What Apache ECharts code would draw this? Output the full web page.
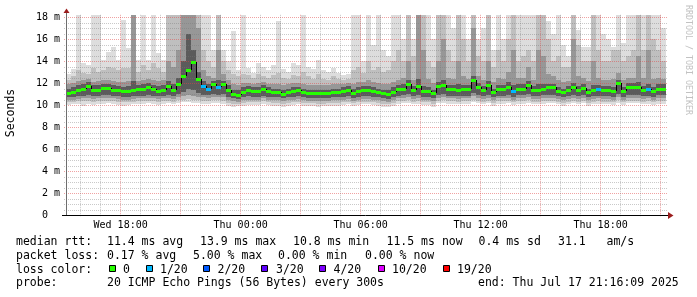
<!DOCTYPE html>
<html><head><meta charset="utf-8">
<script src="https://cdn.jsdelivr.net/npm/echarts@6/dist/echarts.min.js"></script>
<style>html,body{margin:0;padding:0;background:#fff;}#c{width:697px;height:297px;}</style>
</head><body><div id="c"></div>
<script>
// ---- time base: hours since Wed 00:00; one column = 15 min ----
const startHour = 15 + 16/60 + 9/3600;   // Wed 15:16:09
const stepHours = 0.25;
const spanHours = 30;

// ---- median rtt (ms) per column ----
const median = [
11.06,11.2,11.35,11.5,11.7,11.35,11.4,11.55,11.55,11.4,
11.33,11.24,11.24,11.36,11.42,11.48,11.6,11.42,11.3,11.4,
11.75,11.35,11.9,12.6,13.2,13.9,12.4,11.7,11.45,11.9,
11.6,11.9,11.4,11.0,10.95,11.2,11.35,11.3,11.25,11.48,
11.3,11.18,11.15,11.03,11.2,11.3,11.33,11.15,11.1,11.1,
11.05,11.05,11.08,11.18,11.18,11.24,11.36,11.1,11.27,11.33,
11.36,11.27,11.18,11.06,11.0,11.2,11.45,11.5,11.88,11.36,
11.7,11.27,11.27,11.06,11.73,11.85,11.45,11.45,11.36,11.45,
11.45,12.27,11.67,11.36,11.8,11.18,11.42,11.42,11.67,11.27,
11.5,11.5,11.8,11.36,11.36,11.5,11.6,11.6,11.3,11.2,
11.36,11.6,11.36,11.58,11.2,11.36,11.48,11.36,11.36,11.3,
11.97,11.3,11.64,11.62,11.6,11.36,11.48,11.24,11.5,11.5];

// ---- lost pings (of 20) per column ----
const loss = [
0,0,0,0,0,0,0,0,0,0, 0,0,0,0,0,0,0,0,0,0,
0,0,0,0,0,0,0,1,1,0, 1,0,0,0,0,0,0,0,0,0,
0,0,0,0,0,0,0,0,0,0, 0,0,0,0,0,0,0,0,0,0,
0,0,0,0,0,0,0,0,0,0, 0,0,0,0,0,0,0,0,0,0,
0,0,0,0,0,0,0,0,0,1, 0,0,0,0,0,0,0,0,0,0,
0,0,0,0,0,0,1,0,0,0, 0,0,0,0,0,0,1,0,0,0];

// ---- smoke: outer (A) to inner (D) ping ranges (ms) ----
const hiA = [
12.8,13.3,19,13.8,13.6,19,19,14.1,14.85,15.3,
14.1,17.7,15.2,19,14.1,19,14.1,19,14.7,14.1,
19,19,19,19,19,19,19,19,19,15,
19,15,14,16.7,13.2,19,13.4,12.9,13.8,13.5,
13.2,13.6,17.6,13.3,13.0,13.8,13.6,19,13.5,13.3,
14.1,13.2,13.0,13.4,12.9,12.7,12.8,19,19,14,
19,15.5,19,15,14.5,19,19,16,19,16,
19,19,19,16,19,19,19,17,19,19,
16,19,16,17,19,15,19,16,19,19,
19,19,19,19,19,19,17.6,16.5,19,15.5,
14.5,19,16.8,15.3,15.3,19,19,16.5,16,15.3,
19,15.6,19,19,19,19,19,19,19,17];
const hiB = [
12.3,12.6,13.2,12.9,12.8,13.4,13.0,13.2,13.5,13.4,
13.2,13.4,13.4,19,13.0,13.6,13.2,13.8,13.4,13.0,
19,19,19,19,19,19,19,15,14,13.5,
19,14,13.2,12.8,12.6,12.8,12.7,12.5,12.8,12.6,
12.5,12.7,12.9,12.5,12.4,12.7,12.6,13.0,12.6,12.4,
12.8,12.4,12.3,12.6,12.4,12.3,12.4,13.2,13.5,12.9,
14,13.2,13.5,13,13.2,14,15,14,19,14.5,
19,19,14,13.5,19,19,15,14,19,16,
14,19,14.5,14,19,13.5,15,14,16,19,
14,14.5,15,14,19,19,16,14,14.5,13.5,
13.5,19,15.5,14,14,19,15,14,14,15,
15,14,14.5,15,19,15,19,16,15,14];
const hiC = [
11.9,12.0,12.2,12.3,12.4,12.1,12.2,12.3,12.3,12.2,
12.1,12.1,12.2,19,12.2,12.3,12.4,12.3,12.2,12.3,
14,13.5,15,19,19,19,17,13.2,12.6,12.5,
15,12.8,12.3,11.9,11.8,12.0,12.0,11.9,12.0,12.1,
11.9,11.9,11.9,11.8,11.9,12.0,12.0,11.9,11.8,11.8,
11.8,11.8,11.8,11.9,11.9,11.9,12.0,11.9,12.1,12.1,
12.3,12.1,12.0,11.9,11.9,12.1,12.3,12.5,14,12.3,
19,15,12.4,12.0,14,16,12.5,12.4,14,12.6,
12.4,17,12.6,12.3,14,12.1,12.5,12.4,13,15,
12.5,12.5,13.5,12.3,15,14.5,12.8,12.6,12.3,12.1,
12.2,16,12.6,12.5,12.2,14,12.5,12.3,12.3,12.4,
12.9,12.3,12.5,12.5,14.5,12.5,15,12.4,12.5,12.4];
const hiD = [
11.5,11.6,11.8,11.9,12.1,11.8,11.8,11.9,11.9,11.8,
11.7,11.6,11.7,12.2,11.8,11.9,12.0,11.8,11.7,11.8,
12.2,11.9,12.5,14,16.5,15,13,12.2,11.9,12.2,
12.3,12.2,11.8,11.4,11.4,11.6,11.7,11.6,11.6,11.8,
11.6,11.5,11.5,11.4,11.5,11.6,11.6,11.5,11.4,11.4,
11.4,11.4,11.4,11.5,11.5,11.6,11.7,11.5,11.6,11.7,
11.7,11.6,11.5,11.4,11.4,11.6,11.8,11.9,12.3,11.7,
12.4,11.7,11.6,11.4,12.1,12.3,11.8,11.8,11.9,11.8,
11.8,12.6,12.0,11.7,12.2,11.5,11.8,11.8,12.1,11.8,
11.9,11.9,12.2,11.7,11.9,11.9,11.9,11.9,11.6,11.5,
11.7,12.0,11.7,11.9,11.5,11.8,11.8,11.7,11.7,11.6,
12.3,11.6,12.0,12.0,12.1,11.7,11.9,11.6,11.9,11.9];
const loD = [
10.7,10.75,10.8,10.85,10.9,10.8,10.85,10.9,10.9,10.85,
10.8,10.75,10.75,10.8,10.85,10.85,10.9,10.85,10.8,10.85,
10.9,10.8,11.0,11.2,11.5,11.4,11.1,10.95,10.9,11.0,
10.95,11.0,10.7,10.6,10.55,10.7,10.8,10.75,10.75,10.85,
10.75,10.7,10.7,10.6,10.7,10.75,10.8,10.7,10.65,10.65,
10.6,10.6,10.65,10.7,10.7,10.75,10.8,10.65,10.75,10.8,
10.8,10.75,10.7,10.6,10.55,10.7,10.85,10.9,11.0,10.8,
10.9,10.75,10.75,10.6,10.95,11.0,10.85,10.85,10.8,10.85,
10.85,11.1,10.95,10.8,10.95,10.7,10.85,10.85,10.95,10.75,
10.9,10.9,11.0,10.8,10.8,10.9,10.95,10.95,10.8,10.7,
10.8,10.95,10.8,10.95,10.7,10.8,10.85,10.8,10.8,10.75,
11.0,10.75,10.95,10.95,10.95,10.8,10.85,10.75,10.9,10.9];
const loC = [
10.45,10.5,10.55,10.6,10.6,10.55,10.6,10.6,10.65,10.6,
10.55,10.5,10.5,10.55,10.6,10.6,10.65,10.6,10.55,10.6,
10.65,10.55,10.7,10.8,10.9,10.85,10.75,10.7,10.65,10.7,
10.7,10.7,10.45,10.35,10.3,10.45,10.5,10.5,10.5,10.6,
10.5,10.45,10.45,10.35,10.45,10.5,10.55,10.45,10.4,10.4,
10.35,10.35,10.4,10.45,10.45,10.5,10.55,10.4,10.5,10.55,
10.55,10.5,10.45,10.35,10.3,10.45,10.6,10.65,10.7,10.55,
10.6,10.5,10.5,10.35,10.65,10.7,10.6,10.6,10.55,10.6,
10.6,10.8,10.65,10.55,10.65,10.45,10.6,10.6,10.65,10.5,
10.6,10.6,10.7,10.55,10.55,10.6,10.65,10.65,10.55,10.45,
10.55,10.65,10.55,10.65,10.45,10.55,10.6,10.55,10.55,10.5,
10.7,10.5,10.65,10.65,10.65,10.55,10.6,10.5,10.6,10.6];
const loB = [
10.25,10.3,10.35,10.35,10.4,10.3,10.35,10.4,10.4,10.35,
10.3,10.25,10.3,10.3,10.35,10.35,10.4,10.35,10.3,10.35,
10.4,10.3,10.45,10.5,10.55,10.5,10.45,10.4,10.4,10.45,
10.45,10.4,10.2,10.1,10.1,10.2,10.25,10.25,10.25,10.35,
10.25,10.2,10.2,10.1,10.2,10.25,10.3,10.2,10.15,10.15,
10.1,10.1,10.15,10.2,10.2,10.25,10.3,10.15,10.25,10.3,
10.3,10.25,10.2,10.1,10.05,10.2,10.35,10.4,10.45,10.3,
10.35,10.25,10.25,10.1,10.4,10.45,10.35,10.35,10.3,10.35,
10.35,10.5,10.4,10.3,10.4,10.2,10.35,10.35,10.4,10.25,
10.35,10.35,10.45,10.3,10.3,10.35,10.4,10.4,10.3,10.2,
10.3,10.4,10.3,10.4,10.2,10.3,10.35,10.3,10.3,10.25,
10.45,10.25,10.4,10.4,10.4,10.3,10.35,10.25,10.35,10.35];
const loA = [
10.0,10.05,10.1,9.95,10.1,10.0,10.05,10.1,10.15,10.05,
10.0,9.95,10.0,10.05,10.1,10.05,10.15,10.1,10.0,10.1,
10.15,10.05,10.2,10.25,10.3,10.2,10.15,10.1,10.1,10.15,
10.2,10.1,9.95,9.85,9.9,9.95,10.0,10.0,10.0,10.1,
10.0,9.95,9.95,9.85,9.95,10.0,10.05,9.95,9.9,9.9,
9.85,9.9,9.9,9.95,9.95,10.0,10.05,9.9,10.0,10.05,
10.05,10.0,9.95,9.85,9.8,9.95,10.1,10.15,10.2,10.05,
10.1,10.0,10.0,9.85,10.15,10.2,10.1,10.1,10.05,10.1,
10.1,10.25,10.15,10.05,10.15,9.95,10.1,10.1,10.15,10.0,
10.1,10.1,10.2,10.05,10.05,10.1,10.15,10.15,10.05,9.95,
10.05,10.15,10.05,10.15,9.95,10.05,10.1,10.05,10.05,10.0,
10.2,10.0,10.15,10.15,10.15,10.05,10.1,10.0,10.1,10.1];

// ---- axes / ticks ----
const yMax = 18.2;
const xTickHours = [18, 24, 30, 36, 42];
const xTickLabels = ['Wed 18:00', 'Thu 00:00', 'Thu 06:00', 'Thu 12:00', 'Thu 18:00'];

// ---- legend texts ----
const legendRtt = ['median rtt:', '11.4 ms avg', '13.9 ms max', '10.8 ms min', '11.5 ms now', '0.4 ms sd', '31.1', 'am/s'];
const legendLoss = ['packet loss:', '0.17 % avg', '5.00 % max', '0.00 % min', '0.00 % now'];
const lossLabels = ['0', '1/20', '2/20', '3/20', '4/20', '10/20', '19/20'];
const lossThresholds = [0, 1, 2, 3, 4, 10, 19];
const lossColors = ['#26ff00', '#00b8ff', '#0059ff', '#5e00ff', '#7e00ff', '#dd00ff', '#ff0000'];
const legendProbe = ['probe:', '20 ICMP Echo Pings (56 Bytes) every 300s', 'end: Thu Jul 17 21:16:09 2025'];

// ---- layout (pixels) ----
const FONT = '"DejaVu Sans Mono", monospace';
const smokeColors = ['#dddddd', '#bfbfbf', '#979797', '#5b5b5b'];

function lossColor(n) {
  let c = lossColors[0];
  for (let k = 0; k < lossThresholds.length; k++) if (n >= lossThresholds[k]) c = lossColors[k];
  return c;
}

const smokeData = median.map((m, i) => [startHour + i * stepHours, loA[i], hiA[i], loB[i], hiB[i], loC[i], hiC[i], loD[i], hiD[i]]);
const medData = median.map((m, i) => [startHour + i * stepHours, m, loss[i], i > 0 ? median[i - 1] : m]);
const hGrid = [];
for (let k = 1; k <= 36; k++) hGrid.push([startHour, k * 0.5, k % 4 === 0 ? 1 : 0]);
const vGrid = [];
for (let h = 16; h <= 45; h++) vGrid.push([h, 0, h % 3 === 0 ? 1 : 0]);

const chart = echarts.init(document.getElementById('c'), null, {renderer: 'canvas'});

function renderSmoke(params, api) {
  const t0 = api.value(0), t1 = t0 + stepHours;
  const x0 = Math.round(api.coord([t0, 0])[0]);
  const x1 = Math.round(api.coord([t1, 0])[0]);
  const children = [];
  for (let b = 0; b < 4; b++) {
    const lo = api.value(1 + b * 2), hi = Math.min(api.value(2 + b * 2), yMax);
    const yT = Math.round(api.coord([t0, hi])[1]);
    const yB = Math.round(api.coord([t0, lo])[1]);
    children.push({type: 'rect', shape: {x: x0, y: yT, width: x1 - x0, height: yB - yT}, style: {fill: smokeColors[b]}});
  }
  return {type: 'group', children};
}

function renderMedian(params, api) {
  const t0 = api.value(0), t1 = t0 + stepHours;
  const x0 = Math.round(api.coord([t0, 0])[0]);
  const x1 = Math.round(api.coord([t1, 0])[0]);
  const y = Math.round(api.coord([t0, api.value(1)])[1]);
  const yp = Math.round(api.coord([t0, api.value(3)])[1]);
  return {type: 'group', children: [
    {type: 'line', shape: {x1: x0 + 0.5, y1: yp, x2: x0 + 0.5, y2: y}, style: {stroke: '#000', lineWidth: 1}},
    {type: 'rect', shape: {x: x0, y: y - 1, width: x1 - x0, height: 3}, style: {fill: lossColor(api.value(2))}}
  ]};
}

function renderHGrid(params, api) {
  const cs = params.coordSys;
  const y = Math.round(api.coord([startHour, api.value(1)])[1]) + 0.5;
  const major = api.value(2) === 1;
  return {type: 'line', shape: {x1: cs.x - 2, y1: y, x2: cs.x + cs.width + 2, y2: y},
    style: {stroke: major ? 'rgba(225,70,70,0.5)' : 'rgba(120,120,120,0.4)', lineWidth: 1, lineDash: [1, 1]}};
}
function renderVGrid(params, api) {
  const cs = params.coordSys;
  const x = Math.floor(api.coord([api.value(0), 0])[0]) + 0.5;
  const major = api.value(2) === 1;
  return {type: 'line', shape: {x1: x, y1: cs.y, x2: x, y2: cs.y + cs.height + 2},
    style: {stroke: major ? 'rgba(225,70,70,0.5)' : 'rgba(120,120,120,0.4)', lineWidth: 1, lineDash: [1, 1]}};
}

const graphics = [];
// axes
graphics.push({type: 'line', z: 20, shape: {x1: 66.5, y1: 215, x2: 66.5, y2: 12}, style: {stroke: '#6e6e6e', lineWidth: 1}});
graphics.push({type: 'polygon', z: 21, shape: {points: [[63.5, 13], [69.5, 13], [66.5, 8.5]]}, style: {fill: '#9b1c1c'}});
graphics.push({type: 'line', z: 20, shape: {x1: 62, y1: 215.5, x2: 669, y2: 215.5}, style: {stroke: '#000', lineWidth: 1}});
graphics.push({type: 'polygon', z: 21, shape: {points: [[668, 212], [668, 219], [673.5, 215.5]]}, style: {fill: '#9b1c1c'}});
// titles
graphics.push({type: 'text', z: 20, x: 11, y: 113, rotation: Math.PI / 2,
  style: {text: 'Seconds', font: '11.5px ' + FONT, fill: '#000', align: 'center', verticalAlign: 'middle'}});
graphics.push({type: 'text', z: 20, x: 688.5, y: 60, rotation: -Math.PI / 2,
  style: {text: 'RRDTOOL / TOBI OETIKER', font: '8.3px ' + FONT, fill: '#c2c2c2', align: 'center', verticalAlign: 'middle'}});
// legend rows
const rowY = [242.2, 255.7, 269.6, 283.2];
const rttX = [16, 107, 200, 293, 386.5, 478.5, 558, 606.5];
const lossX = [16, 107, 193, 278, 365];
const boxX = [109, 146, 203, 261, 319, 378, 443];
const boxLabelX = [123, 160, 217.5, 276, 333.5, 392, 457];
const probeX = [16, 107, 478];
function addText(x, y, t) {
  graphics.push({type: 'text', z: 20, x: x, y: y, style: {text: t, font: '11.5px ' + FONT, fill: '#000', align: 'left', verticalAlign: 'middle'}});
}
legendRtt.forEach((t, k) => addText(rttX[k], rowY[0], t));
legendLoss.forEach((t, k) => addText(lossX[k], rowY[1], t));
addText(16, rowY[2], 'loss color:');
lossLabels.forEach((t, k) => {
  graphics.push({type: 'rect', z: 20, shape: {x: boxX[k] + 0.5, y: 265.5, width: 6, height: 6},
    style: {fill: lossColors[k], stroke: '#000', lineWidth: 1}});
  addText(boxLabelX[k], rowY[2], t);
});
legendProbe.forEach((t, k) => addText(probeX[k], rowY[3], t));

chart.setOption({
  animation: false,
  backgroundColor: '#ffffff',
  grid: {left: 66, top: 14.8, width: 600, height: 200.2, containLabel: false},
  xAxis: {
    type: 'value', min: startHour, max: startHour + spanHours,
    axisLine: {show: false}, axisTick: {show: false}, splitLine: {show: false},
    axisLabel: {
      customValues: xTickHours, margin: 5, color: '#000', fontFamily: FONT, fontSize: 10,
      formatter: v => { const k = xTickHours.indexOf(Math.round(v)); return k >= 0 ? xTickLabels[k] : ''; }
    }
  },
  yAxis: {
    type: 'value', min: 0, max: yMax, interval: 2,
    axisLine: {show: false}, axisTick: {show: false}, splitLine: {show: false},
    axisLabel: {margin: 6, color: '#000', fontFamily: FONT, fontSize: 10,
      formatter: v => v === 0 ? '0  ' : (v > 18.01 ? '' : v + ' m')}
  },
  series: [
    {type: 'custom', name: 'smoke', coordinateSystem: 'cartesian2d', renderItem: renderSmoke,
      data: smokeData, encode: {x: 0, y: [1, 2]}, clip: true, z: 1, silent: true},
    {type: 'custom', name: 'hgrid', coordinateSystem: 'cartesian2d', renderItem: renderHGrid,
      data: hGrid, encode: {x: 0, y: 1}, clip: false, z: 2, silent: true},
    {type: 'custom', name: 'vgrid', coordinateSystem: 'cartesian2d', renderItem: renderVGrid,
      data: vGrid, encode: {x: 0, y: 1}, clip: false, z: 2, silent: true},
    {type: 'custom', name: 'median', coordinateSystem: 'cartesian2d', renderItem: renderMedian,
      data: medData, encode: {x: 0, y: 1}, clip: true, z: 3, silent: true}
  ],
  graphic: graphics
});
</script>
</body></html>
